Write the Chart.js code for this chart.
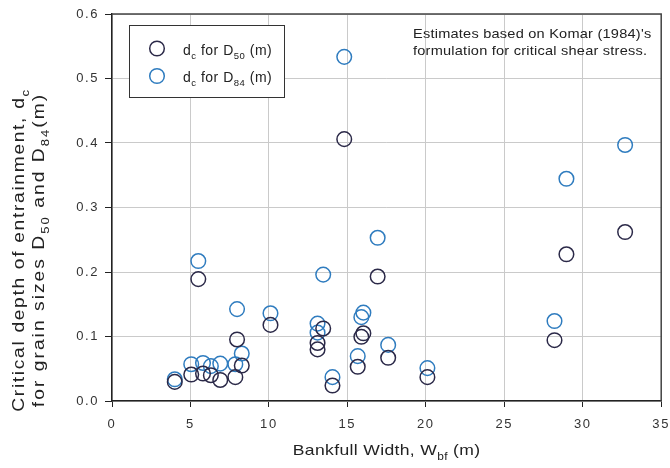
<!DOCTYPE html>
<html><head><meta charset="utf-8">
<script src="https://cdn.jsdelivr.net/npm/chart.js@4.4.1/dist/chart.umd.min.js"></script>
<style>html,body{margin:0;padding:0;background:#fff;}#wrap{width:670px;height:468px;position:relative;}</style>
</head><body><div id="wrap"><canvas id="c"></canvas></div>
<script>
// Bankfull width (m) for each site
const bankfullWidth = [4.0, 5.05, 5.5, 5.8, 6.3, 6.9, 7.86, 7.97, 8.27, 10.1, 13.1, 13.1, 13.46, 14.05, 14.8, 15.66, 15.89, 16.02, 16.93, 17.6, 20.1, 28.2, 28.96, 32.7];
// Critical depth of entrainment for D50 (m)
const dcD50 = [0.0296, 0.041, 0.189, 0.0426, 0.040, 0.0326, 0.037, 0.0954, 0.055, 0.118, 0.090, 0.080, 0.1125, 0.024, 0.406, 0.053, 0.0995, 0.105, 0.193, 0.067, 0.037, 0.0943, 0.2275, 0.262];
// Critical depth of entrainment for D84 (m)
const dcD84 = [0.0337, 0.057, 0.217, 0.059, 0.054, 0.058, 0.057, 0.1425, 0.0736, 0.136, 0.120, 0.106, 0.196, 0.037, 0.5336, 0.0695, 0.130, 0.137, 0.253, 0.087, 0.051, 0.124, 0.3445, 0.397];
const xTickValues = [0, 5, 10, 15, 20, 25, 30, 35];
const yTickValues = [0.0, 0.1, 0.2, 0.3, 0.4, 0.5, 0.6];
// Rich-text labels: [text, isSubscript]
const legendD50 = [['d'], ['c', 1], [' for D'], ['50', 1], [' (m)']];
const legendD84 = [['d'], ['c', 1], [' for D'], ['84', 1], [' (m)']];
const xTitle = [['Bankfull Width, W'], ['bf', 1], [' (m)']];
const yTitle1 = [['Critical depth of entrainment, d'], ['c', 1]];
const yTitle2 = [['for grain sizes D'], ['50', 1], [' and D'], ['84', 1], ['(m)']];
const noteLines = ["Estimates based on Komar (1984)'s", 'formulation for critical shear stress.'];

const NAVY = '#2b2948', BLUE = '#2f7cbf';
const FAMILY = '"Liberation Sans", Arial, sans-serif';

// draws text segments (with subscripts), horizontally stretched by sx
function drawRich(ctx, segs, x, y, size, align, spacing, color, sx) {
  sx = sx || 1;
  ctx.save();
  ctx.letterSpacing = spacing + 'px';
  ctx.fillStyle = color;
  ctx.textBaseline = 'alphabetic';
  ctx.textAlign = 'left';
  let w = 0;
  const parts = segs.map(([t, sub]) => {
    const fs = sub ? size * 0.68 : size;
    ctx.font = fs + 'px ' + FAMILY;
    const m = ctx.measureText(t).width;
    w += m;
    return { t, sub, fs, m };
  });
  const W = w * sx;
  const x0 = align === 'center' ? x - W / 2 : (align === 'right' ? x - W : x);
  ctx.translate(x0, y);
  ctx.scale(sx, 1);
  let cx = 0;
  for (const p of parts) {
    ctx.font = p.fs + 'px ' + FAMILY;
    ctx.fillText(p.t, cx, p.sub ? size * 0.32 : 0);
    cx += p.m;
  }
  ctx.restore();
}

const decor = {
  id: 'decor',
  beforeDraw(chart) { chart.ctx.letterSpacing = '1.6px'; },
  afterDraw(chart) {
    const ctx = chart.ctx, a = chart.chartArea;
    ctx.save();
    ctx.letterSpacing = '0px';
    // top and right frame
    ctx.strokeStyle = '#444'; ctx.lineWidth = 1.5;
    ctx.beginPath();
    ctx.moveTo(a.left, a.top); ctx.lineTo(a.right, a.top); ctx.lineTo(a.right, a.bottom);
    ctx.stroke();
    // legend box
    ctx.fillStyle = '#fff';
    ctx.fillRect(129.5, 25.5, 155, 72);
    ctx.strokeStyle = '#333'; ctx.lineWidth = 1;
    ctx.strokeRect(129.5, 25.5, 155, 72);
    ctx.lineWidth = 1.5;
    ctx.strokeStyle = NAVY; ctx.beginPath(); ctx.arc(157, 48.5, 7.3, 0, Math.PI * 2); ctx.stroke();
    ctx.strokeStyle = BLUE; ctx.beginPath(); ctx.arc(157, 76, 7.3, 0, Math.PI * 2); ctx.stroke();
    ctx.restore();
    drawRich(ctx, legendD50, 183, 55, 14, 'left', 0.5, '#222', 1);
    drawRich(ctx, legendD84, 183, 82, 14, 'left', 0.5, '#222', 1);
    // note
    drawRich(ctx, [[noteLines[0]]], 413, 37.7, 13, 'left', 0.2, '#222', 1.12);
    drawRich(ctx, [[noteLines[1]]], 413, 55, 13, 'left', 0.2, '#222', 1.12);
    // x title
    drawRich(ctx, xTitle, (a.left + a.right) / 2, 455, 15, 'center', 0.3, '#222', 1.17);
    // y title (rotated)
    ctx.save();
    ctx.translate(23.5, 250); ctx.rotate(-Math.PI / 2);
    drawRich(ctx, yTitle1, 0, 0, 16, 'center', 1.4, '#222', 1.2);
    ctx.restore();
    ctx.save();
    ctx.translate(44, 250); ctx.rotate(-Math.PI / 2);
    drawRich(ctx, yTitle2, 0, 0, 16, 'center', 1.7, '#222', 1.2);
    ctx.restore();
  }
};

const pts = (ys) => bankfullWidth.map((x, i) => ({ x, y: ys[i] }));

new Chart(document.getElementById('c'), {
  type: 'scatter',
  data: {
    datasets: [
      { label: 'dc for D50 (m)', data: pts(dcD50), borderColor: NAVY, backgroundColor: 'rgba(0,0,0,0)', pointRadius: 7.3, pointBorderWidth: 1.5, pointHoverRadius: 7.3 },
      { label: 'dc for D84 (m)', data: pts(dcD84), borderColor: BLUE, backgroundColor: 'rgba(0,0,0,0)', pointRadius: 7.3, pointBorderWidth: 1.5, pointHoverRadius: 7.3 }
    ]
  },
  options: {
    responsive: true, maintainAspectRatio: false, devicePixelRatio: 1, animation: false,
    layout: { padding: { top: 14, right: 6, left: 0, bottom: 0 } },
    plugins: { legend: { display: false }, tooltip: { enabled: false } },
    scales: {
      x: {
        type: 'linear', min: 0, max: 35,
        afterBuildTicks: s => { s.ticks = xTickValues.map(v => ({ value: v })); },
        afterFit: s => { s.height = 67; s.paddingLeft = 0; s.paddingRight = 0; },
        ticks: { color: '#333', font: { size: 13, family: FAMILY }, padding: 10, maxRotation: 0, callback: v => String(v) },
        grid: { color: '#cacaca', lineWidth: 1, tickLength: 6, tickColor: '#222', drawTicks: true },
        border: { color: '#222', width: 1.5 }
      },
      y: {
        type: 'linear', min: 0, max: 0.6,
        afterBuildTicks: s => { s.ticks = yTickValues.map(v => ({ value: v })); },
        afterFit: s => { s.width = 112; s.paddingTop = 0; s.paddingBottom = 0; },
        ticks: { color: '#333', font: { size: 13, family: FAMILY }, padding: 6, callback: v => Number(v).toFixed(1) },
        grid: { color: '#cacaca', lineWidth: 1, tickLength: 7, tickColor: '#222', drawTicks: true },
        border: { color: '#222', width: 1.5 }
      }
    }
  },
  plugins: [decor]
});
</script></body></html>
